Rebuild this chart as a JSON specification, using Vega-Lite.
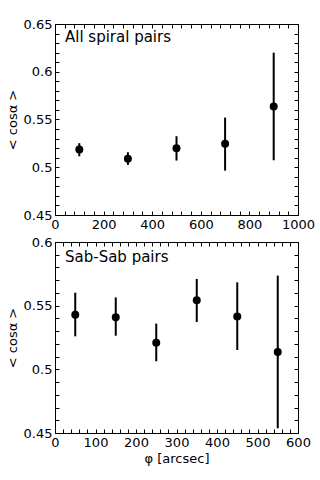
{
  "$schema": "https://vega.github.io/schema/vega-lite/v6.json",
  "padding": {"top": 17, "left": 5, "right": 0, "bottom": 0},
  "spacing": 3,
  "config": {
    "font": "DejaVu Sans",
    "view": {"stroke": "black", "strokeWidth": 1},
    "axis": {
      "labelFont": "DejaVu Sans", "labelFontSize": 13, "labelColor": "black",
      "titleFont": "DejaVu Sans", "titleFontSize": 13, "titleFontWeight": "normal", "titleColor": "black",
      "domainColor": "black", "tickColor": "black", "tickWidth": 1, "grid": false, "labelPadding": 7,
      "labelFlush": false, "labelOverlap": false, "ticks": true, "tickSize": -4
    }
  },
  "datasets": {
    "top": [
      {"phi": 100, "c": 0.5185, "lo": 0.5115, "hi": 0.5252},
      {"phi": 300, "c": 0.509, "lo": 0.5024, "hi": 0.5157},
      {"phi": 500, "c": 0.520, "lo": 0.507, "hi": 0.5325},
      {"phi": 700, "c": 0.5245, "lo": 0.4965, "hi": 0.552},
      {"phi": 900, "c": 0.5636, "lo": 0.5073, "hi": 0.620}
    ],
    "bottom": [
      {"phi": 50, "c": 0.5429, "lo": 0.5259, "hi": 0.5602},
      {"phi": 150, "c": 0.541, "lo": 0.5264, "hi": 0.5565},
      {"phi": 250, "c": 0.5209, "lo": 0.5063, "hi": 0.5359},
      {"phi": 350, "c": 0.5542, "lo": 0.5372, "hi": 0.571},
      {"phi": 450, "c": 0.5414, "lo": 0.5152, "hi": 0.5683},
      {"phi": 550, "c": 0.5136, "lo": 0.4537, "hi": 0.5736}
    ],
    "labels": [
      {"panel": "top", "text": "All spiral pairs", "x": 41, "y": 0.636},
      {"panel": "bottom", "text": "Sab-Sab pairs", "x": 24.7, "y": 0.5885}
    ]
  },
  "vconcat": [
    {
      "width": 243, "height": 191,
      "resolve": {"axis": {"x": "independent", "y": "independent"}},
      "layer": [
        {
          "data": {"name": "top"},
          "mark": {"type": "rule", "color": "black", "strokeWidth": 2},
          "encoding": {
            "x": {"field": "phi", "type": "quantitative",
              "scale": {"domain": [0, 1000], "nice": false},
              "axis": {"orient": "bottom", "title": null,
                "values": [0,40,80,120,160,200,240,280,320,360,400,440,480,520,560,600,640,680,720,760,800,840,880,920,960,1000],
                "labelExpr": "datum.value % 200 == 0 ? format(datum.value, 'd') : ''",
                "encode": {"ticks": {"update": {"y2": {"signal": "datum.value % 200 == 0 ? -5 : -3"}}}}}},
            "y": {"field": "lo", "type": "quantitative",
              "scale": {"domain": [0.45, 0.65], "nice": false, "zero": false},
              "axis": {"orient": "left", "title": "< cosα >", "titlePadding": 4,
                "values": [0.45,0.46,0.47,0.48,0.49,0.5,0.51,0.52,0.53,0.54,0.55,0.56,0.57,0.58,0.59,0.6,0.61,0.62,0.63,0.64,0.65],
                "labelExpr": "abs(datum.value*20 - round(datum.value*20)) < 1e-6 ? format(datum.value, '.2~f') : ''",
                "encode": {"ticks": {"update": {"x2": {"signal": "abs(datum.value*20 - round(datum.value*20)) < 1e-6 ? 5 : 3"}}}}}},
            "y2": {"field": "hi"}
          }
        },
        {
          "data": {"name": "top"},
          "mark": {"type": "point", "filled": true, "shape": "circle", "color": "black", "opacity": 1, "size": 64},
          "encoding": {
            "x": {"field": "phi", "type": "quantitative", "axis": null},
            "y": {"field": "c", "type": "quantitative", "axis": null}
          }
        },
        {
          "mark": {"type": "rule", "color": "black", "strokeWidth": 1.5, "strokeDash": [2, 2]},
          "encoding": {"y": {"datum": 0.5, "type": "quantitative", "axis": null}}
        },
        {
          "data": {"name": "labels"},
          "transform": [{"filter": "datum.panel == 'top'"}],
          "mark": {"type": "text", "align": "left", "baseline": "middle", "fontSize": 15, "font": "DejaVu Sans", "color": "black"},
          "encoding": {
            "x": {"field": "x", "type": "quantitative", "axis": null},
            "y": {"field": "y", "type": "quantitative", "axis": null},
            "text": {"field": "text"}
          }
        },
        {
          "data": {"name": "top"},
          "mark": {"type": "point", "opacity": 0},
          "encoding": {
            "x": {"field": "phi", "type": "quantitative",
              "axis": {"orient": "top", "title": null, "labels": false,
                "values": [0,40,80,120,160,200,240,280,320,360,400,440,480,520,560,600,640,680,720,760,800,840,880,920,960,1000],
                "encode": {"ticks": {"update": {"y2": {"signal": "datum.value % 200 == 0 ? 5 : 3"}}}}}},
            "y": {"field": "c", "type": "quantitative",
              "axis": {"orient": "right", "title": null, "labels": false,
                "values": [0.45,0.46,0.47,0.48,0.49,0.5,0.51,0.52,0.53,0.54,0.55,0.56,0.57,0.58,0.59,0.6,0.61,0.62,0.63,0.64,0.65],
                "encode": {"ticks": {"update": {"x2": {"signal": "abs(datum.value*20 - round(datum.value*20)) < 1e-6 ? -5 : -3"}}}}}}
          }
        }
      ]
    },
    {
      "width": 243, "height": 191,
      "resolve": {"axis": {"x": "independent", "y": "independent"}},
      "layer": [
        {
          "data": {"name": "bottom"},
          "mark": {"type": "rule", "color": "black", "strokeWidth": 2},
          "encoding": {
            "x": {"field": "phi", "type": "quantitative",
              "scale": {"domain": [0, 600], "nice": false},
              "axis": {"orient": "bottom", "title": "φ [arcsec]", "titlePadding": 3,
                "values": [0,20,40,60,80,100,120,140,160,180,200,220,240,260,280,300,320,340,360,380,400,420,440,460,480,500,520,540,560,580,600],
                "labelExpr": "datum.value % 100 == 0 ? format(datum.value, 'd') : ''",
                "encode": {"ticks": {"update": {"y2": {"signal": "datum.value % 100 == 0 ? -5 : -3"}}}}}},
            "y": {"field": "lo", "type": "quantitative",
              "scale": {"domain": [0.45, 0.6], "nice": false, "zero": false},
              "axis": {"orient": "left", "title": "< cosα >", "titlePadding": 4,
                "values": [0.45,0.46,0.47,0.48,0.49,0.5,0.51,0.52,0.53,0.54,0.55,0.56,0.57,0.58,0.59,0.6],
                "labelExpr": "abs(datum.value*20 - round(datum.value*20)) < 1e-6 ? format(datum.value, '.2~f') : ''",
                "encode": {"ticks": {"update": {"x2": {"signal": "abs(datum.value*20 - round(datum.value*20)) < 1e-6 ? 5 : 3"}}}}}},
            "y2": {"field": "hi"}
          }
        },
        {
          "data": {"name": "bottom"},
          "mark": {"type": "point", "filled": true, "shape": "circle", "color": "black", "opacity": 1, "size": 64},
          "encoding": {
            "x": {"field": "phi", "type": "quantitative", "axis": null},
            "y": {"field": "c", "type": "quantitative", "axis": null}
          }
        },
        {
          "mark": {"type": "rule", "color": "black", "strokeWidth": 1.5, "strokeDash": [2, 2]},
          "encoding": {"y": {"datum": 0.5, "type": "quantitative", "axis": null}}
        },
        {
          "data": {"name": "labels"},
          "transform": [{"filter": "datum.panel == 'bottom'"}],
          "mark": {"type": "text", "align": "left", "baseline": "middle", "fontSize": 15, "font": "DejaVu Sans", "color": "black"},
          "encoding": {
            "x": {"field": "x", "type": "quantitative", "axis": null},
            "y": {"field": "y", "type": "quantitative", "axis": null},
            "text": {"field": "text"}
          }
        },
        {
          "data": {"name": "bottom"},
          "mark": {"type": "point", "opacity": 0},
          "encoding": {
            "x": {"field": "phi", "type": "quantitative",
              "axis": {"orient": "top", "title": null, "labels": false,
                "values": [0,20,40,60,80,100,120,140,160,180,200,220,240,260,280,300,320,340,360,380,400,420,440,460,480,500,520,540,560,580,600],
                "encode": {"ticks": {"update": {"y2": {"signal": "datum.value % 100 == 0 ? 5 : 3"}}}}}},
            "y": {"field": "c", "type": "quantitative",
              "axis": {"orient": "right", "title": null, "labels": false,
                "values": [0.45,0.46,0.47,0.48,0.49,0.5,0.51,0.52,0.53,0.54,0.55,0.56,0.57,0.58,0.59,0.6],
                "encode": {"ticks": {"update": {"x2": {"signal": "abs(datum.value*20 - round(datum.value*20)) < 1e-6 ? -5 : -3"}}}}}}
          }
        }
      ]
    }
  ]
}
